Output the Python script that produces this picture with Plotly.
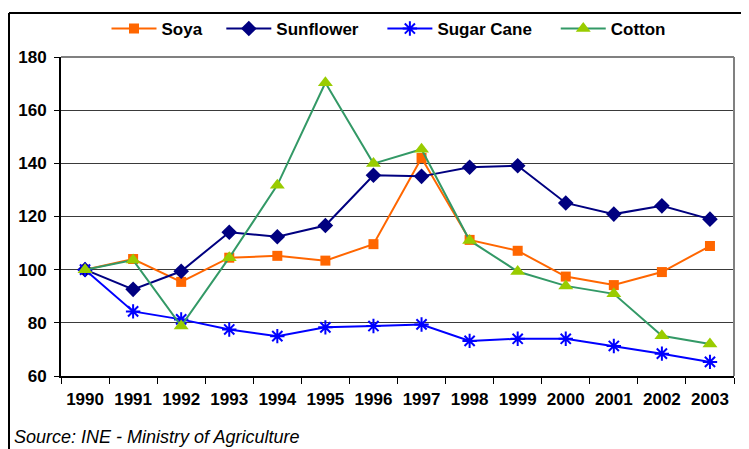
import plotly.graph_objects as go

years = ["1990", "1991", "1992", "1993", "1994", "1995", "1996",
         "1997", "1998", "1999", "2000", "2001", "2002", "2003"]
soya = [100, 104, 95.4, 104.5, 105.2, 103.4, 109.6, 142, 111.2, 107.1, 97.4, 94.2, 99.1, 108.9]
sunflower = [100, 92.6, 99.4, 114.1, 112.4, 116.6, 135.5, 135.1, 138.5, 139.1, 125.1, 120.9, 124, 119]
sugar_cane = [100, 84.3, 81.3, 77.5, 75, 78.3, 78.8, 79.4, 73.2, 74, 74, 71.3, 68.4, 65.3]
cotton = [100, 103.6, 78.8, 104.5, 131.8, 170.3, 139.9, 145.3, 111, 99.3, 93.9, 90.9, 75.1, 72]
series_names = ["Soya", "Sunflower", "Sugar Cane", "Cotton"]

W, H = 749, 449
OFF = 8  # page body margin offset
L, R, T, B = 61 - OFF, 734 - OFF, 57 - OFF, 376 - OFF

def px(x):
    return (x - OFF - L) / (R - L)

def py(y):
    return (B - (y - OFF)) / (B - T)

NB = "\u00a0"
FAM = "Liberation Sans, Arial, sans-serif"

fig = go.Figure()
fig.add_trace(go.Scatter(x=years, y=soya, name=series_names[0] + NB * 3, mode="lines+markers",
                         line=dict(color="#FF6600", width=2),
                         marker=dict(symbol="square", size=10, color="#FF6600")))
fig.add_trace(go.Scatter(x=years, y=sunflower, name=series_names[1] + NB * 4, mode="lines+markers",
                         line=dict(color="#000080", width=2),
                         marker=dict(symbol="diamond", size=12, color="#000080")))
fig.add_trace(go.Scatter(x=years, y=sugar_cane, name=series_names[2] + NB * 4, mode="lines+markers",
                         line=dict(color="#0000FF", width=2),
                         marker=dict(symbol="asterisk-open", size=12,
                                     line=dict(color="#0000FF", width=2))))
fig.add_trace(go.Scatter(x=years, y=cotton, name=series_names[3], mode="lines+markers",
                         line=dict(color="#339966", width=2),
                         marker=dict(symbol="triangle-up", size=13, color="#99CC00")))

fig.update_layout(
    width=W, height=H,
    margin=dict(l=L, r=W - R, t=T, b=H - B, pad=0, autoexpand=False),
    paper_bgcolor="white", plot_bgcolor="white",
    font=dict(family=FAM, size=17, color="#000000"),
    showlegend=True,
    legend=dict(orientation="h", xref="container", yref="container",
                x=(389 - OFF) / W, y=1 - (29 - OFF) / H, xanchor="center", yanchor="middle",
                font=dict(family=FAM, size=17, color="#000000", weight="bold"),
                itemwidth=45, bgcolor="rgba(0,0,0,0)", tracegroupgap=0),
    xaxis=dict(type="category", showgrid=False, showline=True, linecolor="#000000", linewidth=2,
               ticks="outside", tickson="boundaries", ticklen=6, tickcolor="#000000", tickwidth=1,
               tickfont=dict(family=FAM, size=17, weight="bold"),
               ticklabelstandoff=7, range=[-0.5, 13.5], fixedrange=True),
    yaxis=dict(range=[60, 180], dtick=20, tick0=60, showgrid=True, gridcolor="#3a3a3a", gridwidth=1,
               showline=True, linecolor="#000000", linewidth=2, ticks="outside", ticklen=5,
               tickcolor="#000000", zeroline=False,
               tickfont=dict(family=FAM, size=17, weight="bold"),
               ticklabelstandoff=4),
    shapes=[
        dict(type="line", xref="paper", yref="paper", x0=0, x1=1, y0=1, y1=1,
             line=dict(color="#808080", width=2)),
        dict(type="line", xref="paper", yref="paper", x0=1, x1=1, y0=0, y1=1,
             line=dict(color="#808080", width=2)),
        dict(type="line", xref="paper", yref="paper", x0=px(9), x1=px(770), y0=py(13), y1=py(13),
             line=dict(color="#000000", width=2)),
        dict(type="line", xref="paper", yref="paper", x0=px(9), x1=px(9), y0=py(13), y1=py(470),
             line=dict(color="#000000", width=2)),
    ],
    annotations=[
        dict(text="<i>Source: INE - Ministry of Agriculture</i>", xref="paper", yref="paper",
             x=px(12), y=py(437), xanchor="left", yanchor="middle", showarrow=False,
             font=dict(family=FAM, size=18, color="#000000")),
    ],
)

fig.write_html("out.html")
